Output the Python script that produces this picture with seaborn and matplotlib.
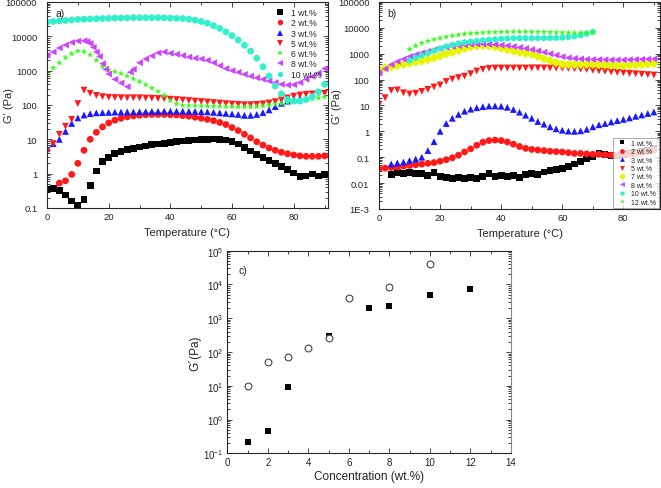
import pandas as pd
import matplotlib
matplotlib.use("Agg")
import matplotlib.pyplot as plt
import seaborn as sns
from matplotlib.ticker import FuncFormatter, MultipleLocator, LogLocator

# --------------------------------------------------
# Data: panel a) G' vs temperature
# --------------------------------------------------

a_t1 = list(range(0, 91, 2))
a_g1 = [0.34, 0.36, 0.33, 0.24, 0.16, 0.12, 0.18, 0.45, 1.2, 2.3,
        3.0, 3.8, 4.5, 5.0, 5.5, 6.0, 6.4, 6.9, 7.3, 7.7,
        8.1, 8.5, 8.9, 9.3, 9.6, 9.9, 10.1, 10.2, 10.1, 9.6,
        8.6, 7.3, 5.8, 4.6, 3.6, 2.9, 2.4, 2.0, 1.6, 1.3,
        1.05, 0.82, 0.85, 0.98, 0.85, 0.95]

a_t2 = list(range(4, 91, 2))
a_g2 = [0.53, 0.62, 0.95, 2.0, 4.8, 10, 16, 23,
        30, 36, 41, 45, 48, 50, 52, 53, 53, 53,
        52, 51, 49, 47, 44, 41, 38, 35, 31, 27,
        22, 18, 14, 11, 8.5, 6.8, 5.6, 4.8, 4.2, 3.8,
        3.5, 3.3, 3.2, 3.2, 3.2, 3.3]

a_t3 = list(range(0, 83, 2))
a_g3 = [5.5, 7.5, 10, 17, 29, 42, 51, 56, 59, 60,
        61, 62, 62, 63, 63, 64, 64, 65, 65, 66,
        66, 66, 66, 65, 65, 64, 63, 61, 59, 57,
        55, 53, 50, 50, 53, 60, 72, 90, 112, 130,
        145, 160]

a_t5 = list(range(0, 91, 2))
a_g5 = [4.3, 7.5, 14, 24, 38, 110, 270, 220, 190, 175,
        168, 165, 163, 162, 162, 162, 160, 158, 155, 152,
        148, 144, 140, 135, 130, 126, 122, 118, 114, 110,
        107, 104, 102, 102, 104, 108, 115, 125, 140, 160,
        180, 195, 205, 210, 215, 220]

a_t6 = list(range(0, 91, 2))
a_g6 = [820, 1200, 1700, 2400, 3100, 3700, 3600, 2900, 2000, 1300,
        1050, 930, 830, 700, 580, 480, 390, 310, 250, 190,
        135, 108, 98, 96, 95, 94, 93, 92, 91, 90,
        89, 88, 88, 88, 90, 93, 98, 104, 110, 118,
        125, 132, 140, 150, 160, 172]

a_t8 = [0, 2, 4, 6, 8, 10, 12, 13, 14, 15, 16, 17, 18, 19, 20, 22, 24, 26, 27] + list(range(28, 91, 2))
a_g8 = [2800, 3500, 4600, 5600, 6600, 7300, 7400, 7000, 6200, 4800,
        3500, 2600, 1600, 1100, 800, 560, 440, 340, 900,
        1100, 1700, 2200, 2700, 3300, 3500, 3200, 3000, 2750, 2500,
        2300, 2200, 2000, 1700, 1400, 1150, 1000, 900, 780, 690,
        620, 560, 500, 450, 400, 380, 390, 450, 560, 680,
        850, 1150]

a_t10 = list(range(0, 91, 2))
a_g10 = [26000, 27000, 28000, 29000, 30000, 31000, 31500, 32000, 32500, 33000,
         33500, 34000, 34000, 34500, 35000, 35000, 35000, 35000, 35000, 34500,
         34000, 33500, 33000, 31500, 29500, 27000, 24000, 20500, 17000, 13500,
         10500, 7800, 5500, 3700, 2300, 1300, 700, 360, 210, 145,
         130, 130, 145, 175, 240, 400]

# --------------------------------------------------
# Data: panel b) G' vs temperature
# --------------------------------------------------

b_t1 = list(range(4, 91, 2))
b_g1 = [0.022, 0.025, 0.023, 0.025, 0.024, 0.023, 0.019, 0.026,
        0.018, 0.017, 0.015, 0.016, 0.015, 0.017, 0.015, 0.018, 0.024, 0.018,
        0.020, 0.018, 0.020, 0.017, 0.021, 0.024, 0.022, 0.027, 0.030, 0.033,
        0.038, 0.045, 0.055, 0.068, 0.085, 0.11, 0.14, 0.13, 0.12, 0.12,
        0.13, 0.14, 0.15, 0.17, 0.19, 0.22]

b_t2 = list(range(0, 91, 2))
b_g2 = [0.036, 0.038, 0.040, 0.042, 0.045, 0.048, 0.051, 0.054, 0.058, 0.062,
        0.07, 0.08, 0.095, 0.12, 0.16, 0.21, 0.29, 0.38, 0.44, 0.46,
        0.44, 0.39, 0.32, 0.26, 0.22, 0.2, 0.19, 0.18, 0.17, 0.165,
        0.16, 0.15, 0.14, 0.14, 0.135, 0.13, 0.13, 0.125, 0.12, 0.12,
        0.125, 0.13, 0.14, 0.15, 0.17, 0.19]

b_t3 = list(range(4, 91, 2))
b_g3 = [0.055, 0.06, 0.065, 0.075, 0.085, 0.1, 0.18, 0.4,
        1.0, 2.0, 3.2, 4.5, 6.0, 7.2, 8.2, 9.0, 9.5, 9.6,
        9.3, 8.5, 7.0, 5.5, 4.2, 3.2, 2.4, 1.9, 1.5, 1.25,
        1.1, 1.02, 1.0, 1.05, 1.2, 1.5, 1.8, 2.0, 2.3, 2.6,
        2.9, 3.3, 3.8, 4.3, 4.9, 5.6]

b_t5 = list(range(0, 91, 2))
b_g5 = [11, 20, 38, 40, 31, 28, 30, 35, 42, 52,
        62, 85, 105, 120, 135, 170, 215, 250, 275, 280,
        280, 280, 280, 280, 282, 285, 285, 283, 280, 278,
        276, 272, 265, 255, 245, 230, 218, 208, 198, 190,
        182, 175, 168, 162, 156, 150]

b_t7 = list(range(0, 91, 2))
b_g7 = [240, 280, 310, 350, 390, 440, 480, 530, 600, 700,
        830, 980, 1150, 1350, 1600, 1850, 2000, 2050, 2000, 1850,
        1650, 1450, 1300, 1150, 1050, 950, 800, 650, 540, 450,
        400, 390, 390, 390, 390, 390, 380, 370, 360, 350,
        350, 355, 365, 380, 400, 420]

b_t8 = list(range(0, 91, 2))
b_g8 = [180, 260, 380, 500, 620, 780, 920, 1080, 1250, 1420,
        1600, 1750, 1900, 2050, 2200, 2300, 2350, 2350, 2300, 2250,
        2150, 2050, 1900, 1750, 1600, 1450, 1300, 1150, 1000, 880,
        770, 700, 660, 630, 610, 600, 600, 590, 580, 580,
        580, 590, 600, 610, 620, 630]

b_t10 = list(range(10, 71, 2))
b_g10 = [550, 700, 850, 1050, 1300, 1600, 1900, 2200, 2500, 2750,
         2950, 3100, 3300, 3450, 3600, 3750, 3850, 3950, 4000, 4000,
         4000, 4000, 4000, 4050, 4100, 4200, 4400, 4700, 5200, 5900,
         7000]

b_t12 = list(range(10, 71, 2))
b_g12 = [1500, 2000, 2600, 3100, 3600, 4000, 4500, 5000, 5400, 5800,
         6100, 6300, 6500, 6700, 6800, 6900, 7000, 7100, 7100, 7100,
         7000, 7000, 6900, 6800, 6700, 6600, 6500, 6500, 6500, 6500,
         6600]

# --------------------------------------------------
# Data: panel c) G' vs concentration
# --------------------------------------------------

c_conc_filled = [1, 2, 3, 5, 7, 8, 10, 12]
c_g_filled = [0.22, 0.45, 9.1, 300, 2000, 2350, 4800, 7300]
c_conc_open = [1, 2, 3, 4, 5, 6, 8, 10]
c_g_open = [10, 52, 69, 130, 260, 3900, 8200, 39000]

# --------------------------------------------------
# Styles
# --------------------------------------------------

BLACK, RED, BLUE = "#000000", "#ff1a1a", "#1a1aff"
GREEN, PURPLE, CYAN, YELLOW = "#33ff1a", "#cc44ff", "#33f0cc", "#e6f500"

a_series = {
    "1 wt.%": (a_t1, a_g1, BLACK, "s"),
    "2 wt.%": (a_t2, a_g2, RED, "o"),
    "3 wt.%": (a_t3, a_g3, BLUE, "^"),
    "5 wt.%": (a_t5, a_g5, RED, "v"),
    "6 wt.%": (a_t6, a_g6, GREEN, "*"),
    "8 wt.%": (a_t8, a_g8, PURPLE, "<"),
    "10 wt.%": (a_t10, a_g10, CYAN, "o"),
}

b_series = {
    "1 wt.%": (b_t1, b_g1, BLACK, "s"),
    "2 wt.%": (b_t2, b_g2, RED, "o"),
    "3 wt.%": (b_t3, b_g3, BLUE, "^"),
    "5 wt.%": (b_t5, b_g5, RED, "v"),
    "7 wt.%": (b_t7, b_g7, YELLOW, "D"),
    "8 wt.%": (b_t8, b_g8, PURPLE, "<"),
    "10 wt.%": (b_t10, b_g10, CYAN, "h"),
    "12 wt.%": (b_t12, b_g12, GREEN, "*"),
}


def long_frame(series):
    rows = []
    for label, (temps, vals, _, _) in series.items():
        assert len(temps) == len(vals), label
        rows += [(label, t, v) for t, v in zip(temps, vals)]
    return pd.DataFrame(rows, columns=["Sample", "T", "G"])


def log_label(v, pos):
    if v < 0.005:
        return "1E-3"
    return f"{v:g}"


sns.set_style("ticks")
plt.rcParams["font.family"] = ["Liberation Sans", "DejaVu Sans"]

fig = plt.figure(figsize=(6.61, 4.89), dpi=100)
ax_a = fig.add_axes([0.0711, 0.5726, 0.4251, 0.4213])
ax_b = fig.add_axes([0.5734, 0.5706, 0.4251, 0.4233])
ax_c = fig.add_axes([0.3439, 0.0710, 0.4292, 0.4143])


def temp_panel(ax, series, yticks, xmax, tag, label_x):
    df = long_frame(series)
    sns.scatterplot(
        data=df, x="T", y="G", hue="Sample", style="Sample",
        palette={k: v[2] for k, v in series.items()},
        markers={k: v[3] for k, v in series.items()},
        s=24, linewidth=0, ax=ax,
    )
    ax.set_yscale("log")
    ax.set_ylim(yticks[0], yticks[-1])
    ax.set_yticks(yticks)
    ax.yaxis.set_major_formatter(FuncFormatter(log_label))
    ax.yaxis.set_minor_locator(LogLocator(subs=range(2, 10)))
    ax.set_xlim(0, xmax)
    ax.xaxis.set_major_locator(MultipleLocator(20))
    ax.xaxis.set_minor_locator(MultipleLocator(10))
    ax.set_xlabel("Temperature (°C)", fontsize=8)
    ax.set_ylabel("G' (Pa)", fontsize=8)
    ax.yaxis.set_label_coords(label_x, 0.5)
    ax.tick_params(which="both", direction="in", top=True, right=True,
                   labelsize=6.8, width=0.6)
    ax.tick_params(axis="y", pad=7)
    ax.tick_params(axis="x", pad=3)
    ax.tick_params(which="major", length=3.5)
    ax.tick_params(which="minor", length=2)
    for sp in ax.spines.values():
        sp.set_linewidth(0.8)
    ax.text(0.03, 0.97, tag, transform=ax.transAxes, fontsize=7.5,
            va="top", ha="left")


temp_panel(ax_a, a_series, [0.1, 1, 10, 100, 1000, 10000, 100000], 91.1, "a)", -0.118)
temp_panel(ax_b, b_series, [0.001, 0.01, 0.1, 1, 10, 100, 1000, 10000, 100000], 92, "b)", -0.13)

sns.move_legend(ax_a, "upper right", frameon=False, fontsize=6.2,
                handletextpad=0.3, labelspacing=0.15, borderaxespad=0.3,
                markerscale=0.8)
ax_a.get_legend().set_title("")

sns.move_legend(ax_b, "lower right", frameon=True, fontsize=5,
                handletextpad=0.3, labelspacing=0.2, borderaxespad=0.2,
                borderpad=0.3, markerscale=0.7, fancybox=False)
leg_b = ax_b.get_legend()
leg_b.set_title("")
leg_b.get_frame().set_edgecolor("#888888")
leg_b.get_frame().set_linewidth(0.6)

# --------------------------------------------------
# Panel c
# --------------------------------------------------

sns.scatterplot(x=c_conc_filled, y=c_g_filled, marker="s", color="black",
                s=22, linewidth=0, ax=ax_c)
sns.scatterplot(x=c_conc_open, y=c_g_open, marker="o", facecolor="white",
                edgecolor="#444444", s=24, linewidth=0.8, ax=ax_c)
ax_c.set_yscale("log")
ax_c.set_ylim(0.1, 1e5)
ax_c.set_yticks([0.1, 1, 10, 100, 1000, 10000, 100000])
ax_c.set_xlim(0, 14)
ax_c.set_xticks([0, 2, 4, 6, 8, 10, 12, 14])
ax_c.xaxis.set_minor_locator(MultipleLocator(1))
ax_c.yaxis.set_minor_locator(LogLocator(subs=range(2, 10), numticks=10))
ax_c.set_xlabel("Concentration (wt.%)", fontsize=8.5, color="#222222", labelpad=2)
ax_c.set_ylabel("G´(Pa)", fontsize=8.5, color="#222222")
ax_c.yaxis.set_label_coords(-0.093, 0.5)
ax_c.tick_params(which="both", direction="in", top=True, right=True,
                 labelsize=7, width=0.6, pad=3, labelcolor="#222222")
ax_c.tick_params(which="major", length=3.5)
ax_c.tick_params(which="minor", length=2)
for sp in ax_c.spines.values():
    sp.set_linewidth(0.8)
ax_c.spines["right"].set_color("#888888")
ax_c.text(0.04, 0.93, "c)", transform=ax_c.transAxes, fontsize=7.5,
          va="top", ha="left")

fig.savefig("out.png", dpi=100)
